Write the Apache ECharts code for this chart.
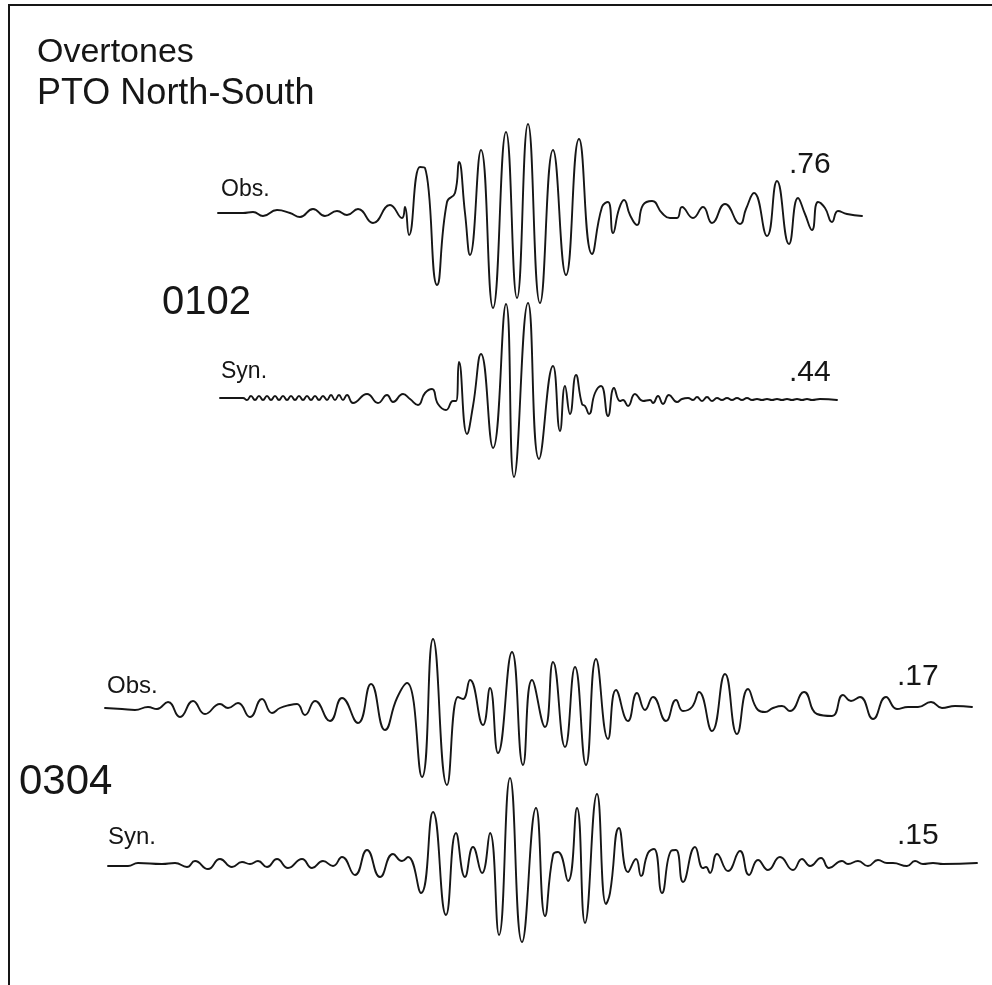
<!DOCTYPE html>
<html>
<head>
<meta charset="utf-8">
<style>
  html, body { margin: 0; padding: 0; background: #fff; }
  #chart { width: 992px; height: 985px; }
</style>
<script src="https://cdn.jsdelivr.net/npm/echarts@6/dist/echarts.min.js"></script>
</head>
<body>
<div id="chart"></div>
<script>
// Seismogram traces: [time sample, amplitude] pairs, amplitude positive upward.
const obs0102 = [
  [218,0],[243,0],[253,1],[263,-3],[277,3],[290,0],[300,-4],[313,4],[325,-3],[337,2],
  [347,-2],[358,4],[373,-10],[390,8],[402,-5],[405,6],[409,-22],[420,46],[425,45],
  [437,-72],[447,11],[455,20],[459,51],[465,0],[470,-42],[481,63],[493,-95],[506,81],
  [517,-85],[528,89],[540,-90],[553,63],[566,-62],[579,74],[592,-41],[602,6],[608,11],
  [613,-20],[619,4],[624,13],[630,-2],[637,-12],[643,8],[652,12],[662,0],[670,-5],
  [677,-5],[682,6],[693,-5],[703,6],[712,-10],[725,9],[740,-11],[746,4],[754,20],
  [767,-23],[777,32],[789,-31],[798,15],[805,-1],[812,-17],[818,11],[825,5],[832,-9],
  [838,2],[847,-1],[862,-3]
];

const syn0102 = [
  [220,0],[243,0],[247,-2],[251,2],[255,-2],[259,2],[263,-2],[267,2],[271,-2],[275,2],
  [279,-2],[283,2],[287,-2],[291,2],[295,-2],[299,2],[303,-2],[307,2],[311,-2],[315,2],
  [319,-2],[323,2],[327,-2],[331,3],[335,-2],[339,3],[343,-2],[347,3],[353,-5],[367,4],
  [378,-5],[387,3],[393,-4],[403,4],[410,-1],[418,-7],[425,5],[432,9],[438,-6],[446,-12],
  [453,-3],[456,-3],[459,36],[467,-36],[473,-8],[481,44],[493,-50],[506,94],[514,-79],
  [528,95],[539,-61],[553,32],[560,-33],[565,12],[570,-16],[576,23],[582,-6],[585,-8],
  [589,-16],[595,5],[601,12],[608,-18],[614,10],[620,-3],[623,-2],[628,-8],[635,4],
  [643,-3],[650,-2],[653,-5],[658,2],[663,-6],[669,3],[677,-4],[682,-1],[688,0],
  [693,-2],[697,1],[702,-3],[707,1],[712,-3],[717,0],[722,-2],[727,0],[732,-2],[737,0],
  [742,-2],[747,0],[752,-2],[757,-1],[762,-2],[767,-1],[772,-2],[777,-1],[782,-2],
  [787,-1],[792,-2],[797,-1],[802,-2],[807,-1],[812,-2],[820,-1],[837,-2]
];

const obs0304 = [
  [105,-1],[122,-2],[135,-3],[148,0],[157,-2],[168,5],[180,-10],[193,6],[205,-7],[220,3],
  [228,-1],[238,4],[250,-10],[262,8],[272,-6],[280,-1],[290,2],[297,3],[305,-8],[315,6],
  [330,-14],[342,9],[358,-16],[371,23],[385,-23],[397,9],[407,24],[422,-70],[433,68],
  [447,-78],[458,10],[463,8],[470,27],[483,-18],[490,19],[498,-46],[512,55],[523,-58],
  [532,27],[545,-20],[553,45],[565,-40],[575,40],[586,-58],[596,48],[608,-32],[616,17],
  [628,-14],[637,14],[645,-3],[653,10],[666,-14],[676,7],[683,-4],[692,0],[699,15],
  [712,-24],[725,33],[737,-27],[748,18],[758,-3],[765,-5],[773,-1],[782,1],[790,-4],
  [804,15],[817,-7],[832,-9],[843,12],[851,6],[860,10],[873,-12],[886,10],[897,-2],
  [908,0],[918,0],[931,5],[942,-1],[955,1],[972,0]
];

const syn0304 = [
  [108,-1],[128,-1],[138,2],[162,1],[175,2],[187,-2],[195,4],[208,-4],[220,6],[232,-2],
  [242,3],[250,1],[258,4],[267,-2],[277,6],[288,-3],[302,6],[312,-3],[323,4],[333,-1],
  [342,8],[355,-10],[367,15],[380,-12],[393,11],[402,4],[408,8],[421,-28],[433,53],
  [446,-50],[456,32],[465,-12],[473,18],[482,-8],[490,32],[499,-70],[510,87],[522,-77],
  [536,57],[545,-51],[553,10],[558,13],[568,-16],[577,57],[585,-58],[597,71],[606,-39],
  [610,-28],[619,37],[628,-7],[636,6],[641,-11],[648,12],[654,16],[662,-28],[671,14],
  [676,15],[683,-17],[695,18],[703,-3],[706,-2],[710,-8],[717,11],[728,-6],[740,14],
  [749,-10],[758,5],[768,-5],[780,8],[793,-5],[802,6],[810,-1],[821,7],[829,-3],[842,4],
  [848,1],[858,4],[868,-1],[878,5],[887,2],[893,2],[907,-1],[915,4],[923,1],[933,2],
  [943,1],[977,2]
];

// Correlation coefficients printed beside each trace
const coeffs = ['.76', '.44', '.17', '.15'];
const modeLabels = ['0102', '0304'];
const traceLabels = ['Obs.', 'Syn.'];
const titleLines = ['Overtones', 'PTO North-South'];

const traces = [obs0102, syn0102, obs0304, syn0304];
const baselines = [213, 398, 707, 865];   // vertical placement of each trace's zero line
const AMP = 120;

const FONT = '"Liberation Sans", Arial, sans-serif';
const INK = '#161616';

const grids = [], xAxes = [], yAxes = [], series = [];
traces.forEach((data, i) => {
  grids.push({ left: 0, right: 0, top: baselines[i] - AMP, height: AMP * 2, containLabel: false });
  xAxes.push({ type: 'value', gridIndex: i, min: 0, max: 992, show: false });
  yAxes.push({ type: 'value', gridIndex: i, min: -AMP, max: AMP, show: false });
  series.push({
    type: 'line', xAxisIndex: i, yAxisIndex: i, data: data,
    showSymbol: false, smooth: 0.5, silent: true, animation: false,
    lineStyle: { color: INK, width: 1.9, join: 'round', cap: 'round' }
  });
});

function txt(str, x, y, size) {
  return { type: 'text', x: x, y: y, silent: true,
    style: { text: str, fill: INK, font: 'normal ' + size + 'px ' + FONT, verticalAlign: 'middle', align: 'left' } };
}

const graphics = [
  // frame edges
  { type: 'polyline', silent: true, shape: { points: [[9, 985], [9, 5], [992, 5]] },
    style: { stroke: INK, lineWidth: 2, fill: null } },
  txt(titleLines[0], 37, 53, 34),
  txt(titleLines[1], 37, 94, 36),
  txt(traceLabels[0], 221, 190, 23),
  txt(coeffs[0], 789, 165, 30),
  txt(modeLabels[0], 162, 303, 40),
  txt(traceLabels[1], 221, 372, 23),
  txt(coeffs[1], 789, 373, 30),
  txt(traceLabels[0], 107, 686, 24),
  txt(coeffs[2], 897, 677, 30),
  txt(modeLabels[1], 19, 782, 42),
  txt(traceLabels[1], 108, 837, 24),
  txt(coeffs[3], 897, 836, 30)
];

const chart = echarts.init(document.getElementById('chart'), null, { renderer: 'canvas' });
chart.setOption({
  backgroundColor: '#ffffff',
  animation: false,
  grid: grids,
  xAxis: xAxes,
  yAxis: yAxes,
  series: series,
  graphic: graphics
});
</script>
</body>
</html>
